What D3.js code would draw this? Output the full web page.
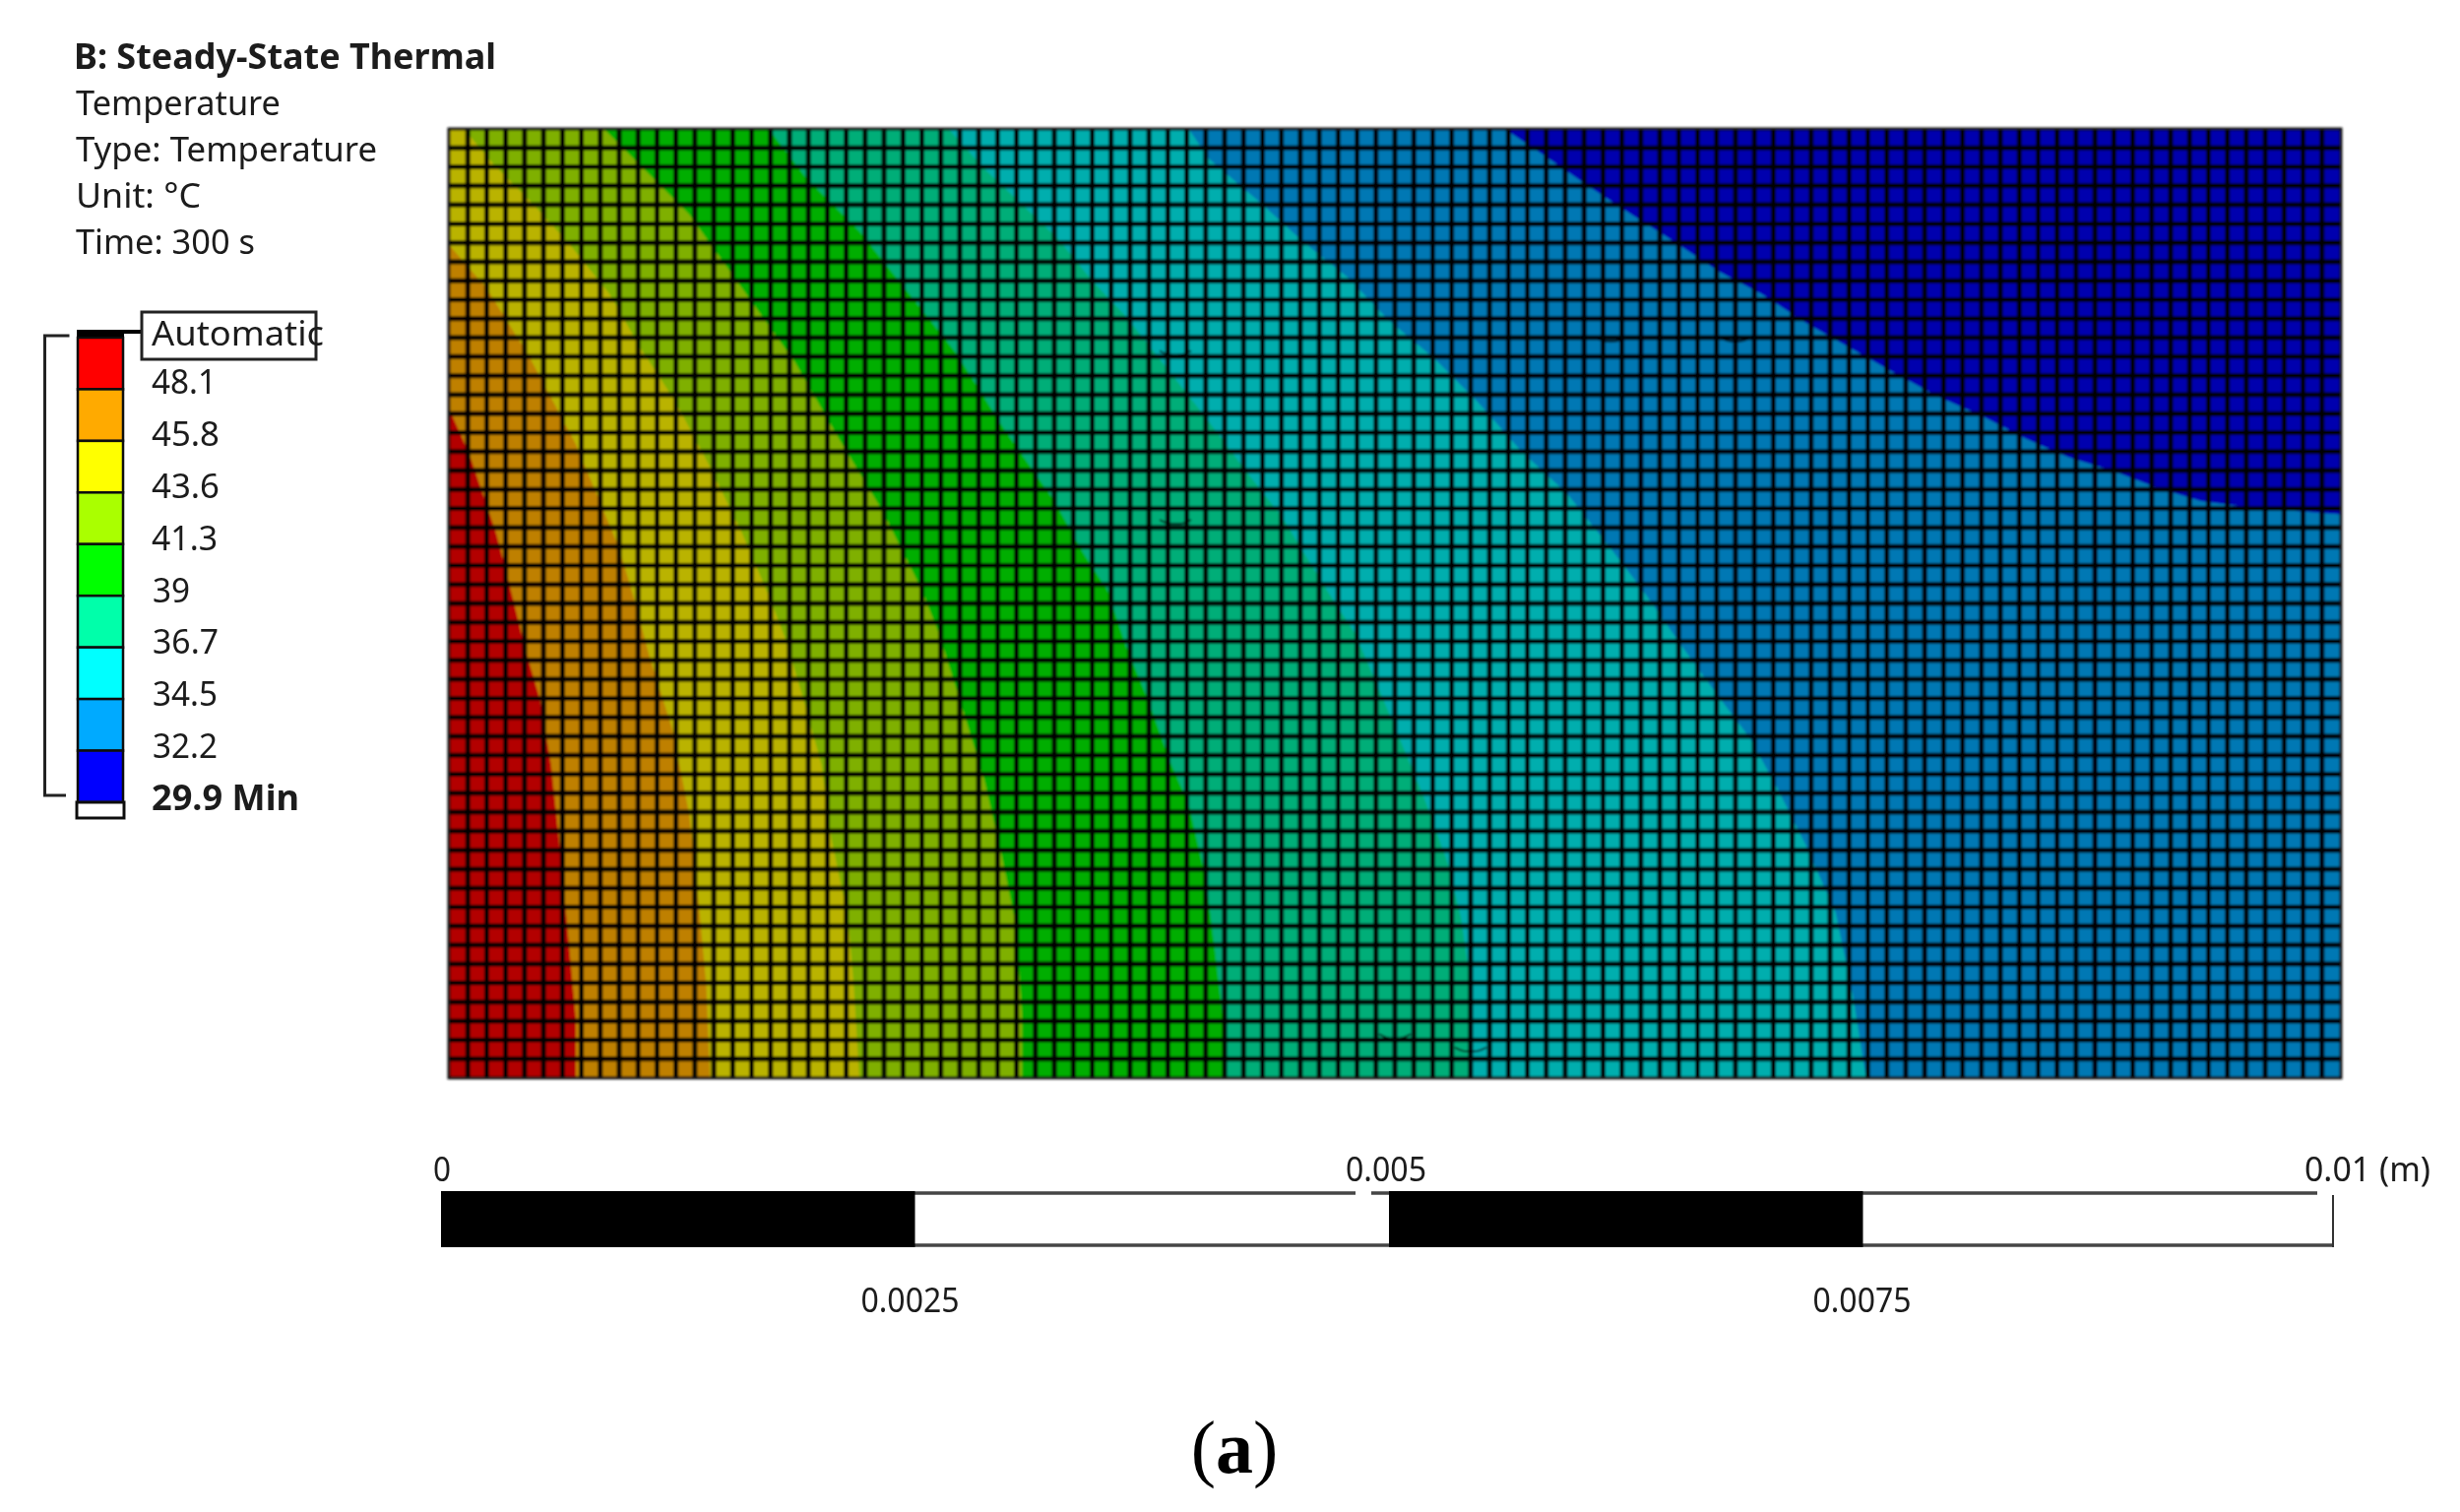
<!DOCTYPE html>
<html>
<head>
<meta charset="utf-8">
<script src="https://cdnjs.cloudflare.com/ajax/libs/d3/7.8.5/d3.min.js"></script>
<style>
html,body{margin:0;padding:0;background:#fff;}
svg{display:block;}
text{font-family:"Noto Sans","Open Sans",sans-serif;fill:#1a1a1a;}
</style>
</head>
<body>
<svg id="chart" width="2499" height="1536" viewBox="0 0 2499 1536"></svg>
<script>
// ---------- Data ----------
const headerLines = ["B: Steady-State Thermal","Temperature","Type: Temperature","Unit: °C","Time: 300 s"];
const legendBoxLabel = "Automatic";
const legendLabels = ["48.1","45.8","43.6","41.3","39","36.7","34.5","32.2","29.9 Min"];
const legendColors = ["#ff0000","#ffaa00","#ffff00","#aaff00","#00ff00","#00ffaa","#00ffff","#00aaff","#0000ff"];
const fieldColors  = ["#b30000","#bf8000","#bab300","#7fb000","#00ae00","#00ae78","#00aeae","#0078b4","#0000ae"];
const scaleBarTicksTop = [0,0.005,0.01];
const scaleBarTicksBottom = [0.0025,0.0075];
const scaleBarTopLabels = ["0","0.005","0.01 (m)"];
const scaleBarBottomLabels = ["0.0025","0.0075"];
const caption = "a";

// Plate size in mm and mesh element counts
const plateX = [0,10];
const plateY = [0,5];
const meshColumns = 100;
const meshRows = 50;

// Isotherm boundaries [x mm, y mm], hot side to cold side
const iso48 = [[0,3.53],[0.11,3.28],[0.25,2.87],[0.34,2.52],[0.40,2.27],[0.48,2.00],[0.54,1.65],[0.59,1.18],[0.63,0.75],[0.67,0.32],[0.67,0]];
const iso46 = [[0,4.39],[0.20,4.16],[0.43,3.79],[0.67,3.34],[0.90,2.79],[0.98,2.52],[1.06,2.22],[1.18,1.84],[1.27,1.39],[1.32,0.92],[1.36,0.49],[1.38,0]];
const iso44 = [[0.08,5],[0.24,4.81],[0.43,4.62],[0.64,4.39],[0.85,4.13],[1.01,3.85],[1.20,3.56],[1.38,3.22],[1.55,2.87],[1.70,2.52],[1.78,2.31],[1.87,2.01],[1.97,1.65],[2.02,1.27],[2.11,0.84],[2.14,0.49],[2.17,0]];
const iso41 = [[0.82,5],[1.01,4.81],[1.27,4.55],[1.55,4.16],[1.83,3.77],[2.06,3.37],[2.29,2.99],[2.50,2.57],[2.59,2.34],[2.71,1.96],[2.83,1.57],[2.92,1.18],[3.00,0.79],[3.03,0.32],[3.03,0]];
const iso39 = [[1.69,5],[1.89,4.74],[2.17,4.46],[2.41,4.16],[2.68,3.82],[2.94,3.41],[3.20,3.04],[3.35,2.77],[3.48,2.57],[3.58,2.27],[3.70,1.98],[3.81,1.67],[3.91,1.44],[4.00,1.05],[4.05,0.66],[4.09,0.32],[4.09,0]];
const iso37 = [[2.64,5],[2.83,4.79],[3.01,4.62],[3.22,4.42],[3.40,4.20],[3.58,4.01],[3.77,3.77],[4.00,3.48],[4.21,3.20],[4.40,2.96],[4.64,2.57],[4.79,2.34],[4.91,2.06],[5.02,1.80],[5.16,1.46],[5.28,1.13],[5.35,0.84],[5.40,0.49],[5.41,0]];
const iso34 = [[3.91,5],[4.02,4.84],[4.28,4.62],[4.51,4.41],[4.75,4.22],[4.97,3.99],[5.21,3.79],[5.44,3.56],[5.67,3.30],[5.91,3.08],[6.14,2.79],[6.31,2.57],[6.52,2.27],[6.71,2.01],[6.87,1.80],[7.01,1.55],[7.17,1.23],[7.33,0.87],[7.42,0.44],[7.49,0]];
const iso32 = [[5.58,5],[5.79,4.86],[6.02,4.70],[6.25,4.55],[6.47,4.41],[6.71,4.25],[6.94,4.13],[7.17,3.98],[7.40,3.85],[7.63,3.72],[7.87,3.59],[8.10,3.49],[8.33,3.37],[8.56,3.27],[8.79,3.20],[9.03,3.11],[9.26,3.04],[9.49,3.01],[9.72,2.99],[10,2.97]];
const isotherms = [iso48,iso46,iso44,iso41,iso39,iso37,iso34,iso32];

// Small mesh irregularities [x mm, y mm]
const meshKinks = [[3.84,3.82],[3.84,2.93],[6.14,3.89],[6.80,3.89],[5.00,0.22],[5.40,0.15]];

// ---------- Layout ----------
const svg = d3.select("#chart");
const defs = svg.append("defs");
defs.append("filter").attr("id","soft").attr("x","-2%").attr("y","-2%").attr("width","104%").attr("height","104%")
  .append("feGaussianBlur").attr("stdDeviation",0.85);
defs.append("filter").attr("id","softText").attr("x","-5%").attr("y","-20%").attr("width","110%").attr("height","140%")
  .append("feGaussianBlur").attr("stdDeviation",0.7);
defs.append("clipPath").attr("id","plate").append("rect")
  .attr("x",456).attr("y",131).attr("width",1922).attr("height",964);

const x = d3.scaleLinear().domain(plateX).range([456,2378]);
const y = d3.scaleLinear().domain(plateY).range([1095,131]);

// ---------- Contour field ----------
const plot = svg.append("g").attr("filter","url(#soft)");
const field = plot.append("g").attr("clip-path","url(#plate)");
const line = d3.line().x(d=>x(d[0])).y(d=>y(d[1]));

field.append("rect").attr("x",x(plateX[0])).attr("y",y(plateY[1]))
  .attr("width",x(plateX[1])-x(plateX[0])).attr("height",y(plateY[0])-y(plateY[1]))
  .attr("fill",fieldColors[0]);

field.selectAll("path.band").data(isotherms).join("path")
  .attr("class","band")
  .attr("fill",(d,i)=>fieldColors[i+1])
  .attr("d",d=>{
    const first = d[0], last = d[d.length-1];
    const loop = d.slice();
    if(last[1]===plateY[0]) loop.push([plateX[1],plateY[0]]);
    loop.push([plateX[1],plateY[1]]);
    if(first[1]!==plateY[1]) loop.push([first[0],plateY[1]]);
    return line(loop)+"Z";
  });

// ---------- Mesh ----------
const mesh = plot.append("g").attr("clip-path","url(#plate)")
  .attr("stroke","#000").attr("stroke-width",5);
const meshX = d3.scaleLinear().domain([0,meshColumns]).range(x.range());
const meshY = d3.scaleLinear().domain([0,meshRows]).range(y.range());
mesh.selectAll("line.v").data(d3.range(1,meshColumns)).join("line").attr("class","v")
  .attr("x1",d=>meshX(d)).attr("x2",d=>meshX(d)).attr("y1",y(plateY[0])).attr("y2",y(plateY[1]));
mesh.selectAll("line.h").data(d3.range(1,meshRows)).join("line").attr("class","h")
  .attr("y1",d=>meshY(d)).attr("y2",d=>meshY(d)).attr("x1",x(plateX[0])).attr("x2",x(plateX[1]));

plot.append("g").attr("fill","none").attr("stroke","#000").attr("stroke-width",1.5)
  .selectAll("path").data(meshKinks).join("path")
  .attr("d",d=>{
    const cx=x(d[0]), cy=y(d[1]);
    return d3.line().curve(d3.curveBasis)([[cx-16,cy-2],[cx-8,cy+2],[cx,cy+2],[cx+8,cy+2],[cx+16,cy-2]]);
  });

plot.append("rect").attr("x",x(plateX[0])).attr("y",y(plateY[1]))
  .attr("width",x(plateX[1])-x(plateX[0])).attr("height",y(plateY[0])-y(plateY[1]))
  .attr("fill","none").attr("stroke","#111").attr("stroke-width",3);

// ---------- Header text ----------
const headerBaselines = [70,117,164,211,258];
const headerLefts = [75,77,77,77,77];
const headerWidths = [429,208,306,127,182];
const header = svg.append("g").attr("filter","url(#softText)");
header.selectAll("text").data(headerLines).join("text")
  .attr("x",(d,i)=>headerLefts[i]).attr("y",(d,i)=>headerBaselines[i])
  .attr("font-size",35).attr("font-weight",(d,i)=>i===0?700:400)
  .attr("textLength",(d,i)=>headerWidths[i]).attr("lengthAdjust","spacingAndGlyphs")
  .text(d=>d);

// ---------- Legend ----------
const legend = svg.append("g").attr("filter","url(#softText)");
const legendY = d3.scaleBand().domain(legendLabels).range([343,815]).paddingInner(0);
const legendTextY = d3.scalePoint().domain(legendLabels).range([400,823]);
const legendX = 79, legendW = 46;

legend.append("path").attr("fill","none").attr("stroke","#222").attr("stroke-width",3)
  .attr("d","M70.5,341H45.5V808H67");

legend.append("rect").attr("x",legendX-1).attr("y",335).attr("width",legendW+2).attr("height",9).attr("fill","#000");
legend.append("line").attr("x1",legendX+legendW).attr("x2",146).attr("y1",337).attr("y2",337).attr("stroke","#000").attr("stroke-width",4);

legend.selectAll("rect.swatch").data(legendLabels).join("rect").attr("class","swatch")
  .attr("x",legendX).attr("y",d=>legendY(d)).attr("width",legendW).attr("height",legendY.bandwidth())
  .attr("fill",(d,i)=>legendColors[i]).attr("stroke","#111").attr("stroke-width",2.5);

legend.append("rect").attr("x",legendX-1).attr("y",815).attr("width",legendW+2).attr("height",16)
  .attr("fill","#fff").attr("stroke","#111").attr("stroke-width",3);

legend.append("rect").attr("x",144).attr("y",317).attr("width",177).attr("height",48)
  .attr("fill","#fff").attr("stroke","#222").attr("stroke-width",3);
legend.append("text").attr("x",154).attr("y",351).attr("font-size",35)
  .attr("textLength",175).attr("lengthAdjust","spacingAndGlyphs").text(legendBoxLabel);

const legendTextLefts = [154,154,154,154,155,155,155,155,154];
const legendTextWidths = [66,69,69,67,38,67,66,66,150];
legend.selectAll("text.val").data(legendLabels).join("text").attr("class","val")
  .attr("x",(d,i)=>legendTextLefts[i])
  .attr("y",d=>legendTextY(d))
  .attr("font-size",35).attr("font-weight",(d,i)=>i===legendLabels.length-1?700:400)
  .attr("textLength",(d,i)=>legendTextWidths[i]).attr("lengthAdjust","spacingAndGlyphs")
  .text(d=>d);

// ---------- Scale bar ----------
const barX = d3.scaleLinear().domain([0,0.01]).range([448,2374]);
const barTop = 1210, barBottom = 1267;
const barEdge = 2370;
const bar = svg.append("g").attr("filter","url(#softText)");

bar.append("g").attr("fill","none").attr("stroke","#444").attr("stroke-width",3.5)
  .selectAll("path").data(["M929,1212H1377M1393,1212H2354","M929,1265H2370"]).join("path")
  .attr("d",d=>d);
bar.append("line").attr("x1",barEdge).attr("x2",barEdge).attr("y1",barTop+4).attr("y2",barBottom)
  .attr("stroke","#333").attr("stroke-width",2);
bar.selectAll("rect").data([[0,0.0025],[0.005,0.0075]]).join("rect")
  .attr("x",d=>barX(d[0])).attr("y",barTop).attr("width",d=>barX(d[1])-barX(d[0])).attr("height",barBottom-barTop)
  .attr("fill","#000");

const topTextLefts = [440,1367,2341];
const topTextWidths = [18,82,128];
bar.selectAll("text.top").data(scaleBarTicksTop).join("text").attr("class","top")
  .attr("x",(d,i)=>topTextLefts[i])
  .attr("y",1200).attr("font-size",34)
  .attr("textLength",(d,i)=>topTextWidths[i]).attr("lengthAdjust","spacingAndGlyphs")
  .text((d,i)=>scaleBarTopLabels[i]);
const bottomTextShift = [-5,-1];
bar.selectAll("text.bottom").data(scaleBarTicksBottom).join("text").attr("class","bottom")
  .attr("x",(d,i)=>barX(d)+bottomTextShift[i]).attr("y",1333).attr("font-size",34).attr("text-anchor","middle")
  .attr("textLength",100).attr("lengthAdjust","spacingAndGlyphs")
  .text((d,i)=>scaleBarBottomLabels[i]);

// ---------- Caption ----------
const cap = svg.append("text").attr("x",1254).attr("y",1496).attr("text-anchor","middle")
  .attr("font-size",76).style("font-family","'Liberation Serif',serif").style("fill","#000");
cap.append("tspan").text("(");
cap.append("tspan").attr("font-weight",700).text(caption);
cap.append("tspan").text(")");
</script>
</body>
</html>
